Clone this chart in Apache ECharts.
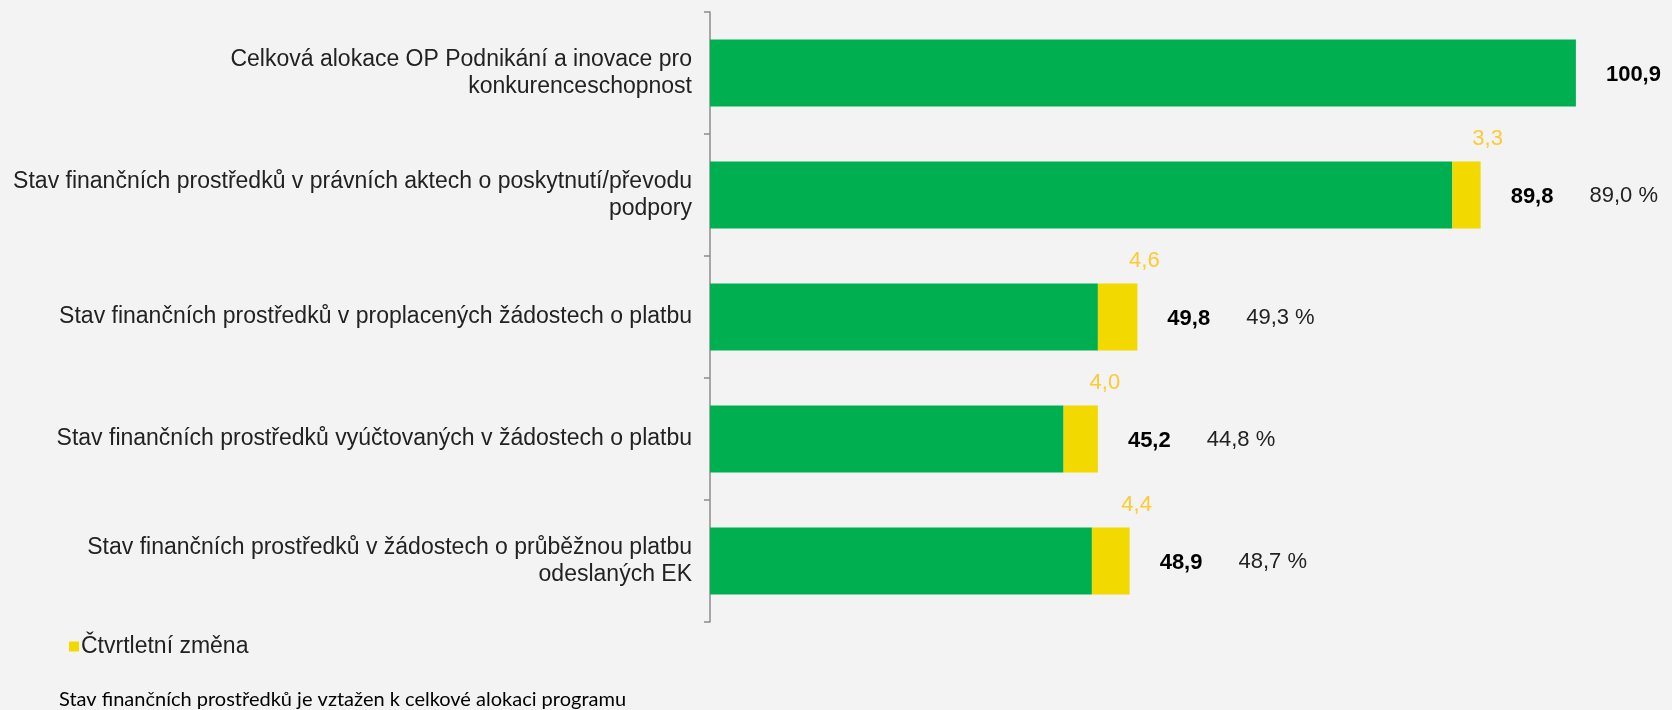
<!DOCTYPE html>
<html>
<head>
<meta charset="utf-8">
<script src="https://cdn.jsdelivr.net/npm/echarts@6/dist/echarts.min.js"></script>
<style>
  html, body { margin: 0; padding: 0; background: #f3f3f3; }
  #main { width: 1672px; height: 710px; }
</style>
</head>
<body>
<div id="main"></div>
<script>
// data (mld. Kč)
const categories = [
  'Celková alokace OP Podnikání a inovace pro\nkonkurenceschopnost',
  'Stav finančních prostředků v právních aktech o poskytnutí/převodu\npodpory',
  'Stav finančních prostředků v proplacených žádostech o platbu',
  'Stav finančních prostředků vyúčtovaných v žádostech o platbu',
  'Stav finančních prostředků v žádostech o průběžnou platbu\nodeslaných EK'
]
const totals = [100.9, 89.8, 49.8, 45.2, 48.9]
const changes = [null, 3.3, 4.6, 4.0, 4.4]
const shares = [null, 89.0, 49.3, 44.8, 48.7]

const fmt = v => v.toFixed(1).replace('.', ',')
const FONT = '"Liberation Sans", Arial, sans-serif'

// zelená část = stav před změnou, žlutá = čtvrtletní změna
const baseData = totals.map((t, i) => +(t - (changes[i] || 0)).toFixed(1))
const changeData = changes.map(c => c == null ? 0 : c)

const chart = echarts.init(document.getElementById('main'))

const option = {
  backgroundColor: '#f3f3f3',
  animation: false,
  textStyle: { fontFamily: FONT },
  title: {
    text: 'Stav finančních prostředků je vztažen k celkové alokaci programu',
    left: 54,
    top: 685,
    textStyle: { fontFamily: 'Lato, sans-serif', fontSize: 20, fontWeight: 'normal', color: '#000' }
  },
  legend: {
    data: ['Čtvrtletní změna'],
    left: 64,
    top: 630,
    icon: 'rect',
    itemWidth: 10,
    itemHeight: 10,
    textStyle: { fontFamily: FONT, fontSize: 23, color: '#222', padding: [0, 0, 0, -3] }
  },
  grid: { left: 710, right: 18, top: 12, bottom: 88 },
  xAxis: {
    type: 'value',
    min: 0,
    max: 110,
    show: false
  },
  yAxis: {
    type: 'category',
    inverse: true,
    data: categories,
    axisLine: { show: true, lineStyle: { color: '#8c8c8c', width: 1.5 } },
    axisTick: { show: true, length: 6, lineStyle: { color: '#8c8c8c', width: 1.5 } },
    axisLabel: {
      margin: 18,
      fontFamily: FONT,
      fontSize: 23,
      lineHeight: 27,
      color: '#222',
      align: 'right'
    }
  },
  series: [
    {
      name: 'Stav',
      type: 'bar',
      stack: 'total',
      barWidth: 67,
      data: baseData,
      itemStyle: { color: '#00b050' }
    },
    {
      name: 'Čtvrtletní změna',
      type: 'bar',
      stack: 'total',
      data: changeData,
      itemStyle: { color: '#f2da00' },
      label: {
        show: true,
        position: 'right',
        distance: 30,
        offset: [0, 2],
        formatter: p => {
          const i = p.dataIndex
          let s = '{b|' + fmt(totals[i]) + '}'
          if (shares[i] != null) s += '{p|' + fmt(shares[i]) + ' %}'
          return s
        },
        rich: {
          b: { fontFamily: FONT, fontSize: 22, fontWeight: 'bold', color: '#000' },
          p: { fontFamily: FONT, fontSize: 22, color: '#222', padding: [0, 0, 3, 36] }
        }
      }
    },
    {
      name: 'změna',
      type: 'scatter',
      symbolSize: 0,
      data: totals.map((t, i) => changes[i] == null ? '-' : t),
      label: {
        show: true,
        position: 'top',
        distance: 45,
        offset: [7, 0],
        fontFamily: FONT,
        fontSize: 22,
        color: '#ffc000',
        formatter: p => fmt(changes[p.dataIndex])
      }
    }
  ]
}

chart.setOption(option)
</script>
</body>
</html>
